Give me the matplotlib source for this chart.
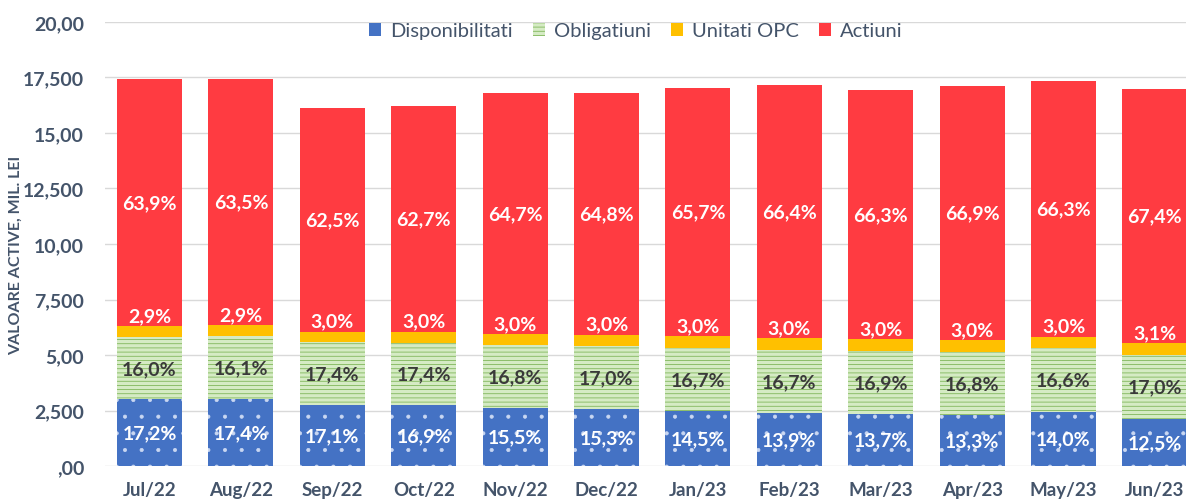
import numpy as np
import matplotlib
matplotlib.use("Agg")
import matplotlib.pyplot as plt

# ====== DATA ======
months = ["Jul/22", "Aug/22", "Sep/22", "Oct/22", "Nov/22", "Dec/22",
          "Jan/23", "Feb/23", "Mar/23", "Apr/23", "May/23", "Jun/23"]
totals = [17.44, 17.44, 16.13, 16.21, 16.82, 16.77,
          17.06, 17.14, 16.97, 17.13, 17.35, 16.97]   # valoare active, mil. lei
pct_disp  = [17.2, 17.4, 17.1, 16.9, 15.5, 15.3, 14.5, 13.9, 13.7, 13.3, 14.0, 12.5]
pct_oblig = [16.0, 16.1, 17.4, 17.4, 16.8, 17.0, 16.7, 16.7, 16.9, 16.8, 16.6, 17.0]
pct_opc   = [2.9, 2.9, 3.0, 3.0, 3.0, 3.0, 3.0, 3.0, 3.0, 3.0, 3.0, 3.1]
pct_act   = [63.9, 63.5, 62.5, 62.7, 64.7, 64.8, 65.7, 66.4, 66.3, 66.9, 66.3, 67.4]
series_names = ["Disponibilitati", "Obligatiuni", "Unitati OPC", "Actiuni"]
ytick_vals   = [0, 2.5, 5, 7.5, 10, 12.5, 15, 17.5, 20]
ytick_labels = [",00", "2,500", "5,00", "7,500", "10,00", "12,500", "15,00", "17,500", "20,00"]
# ==================

plt.rcParams["font.family"] = ["Lato", "DejaVu Sans"]
plt.rcParams["hatch.linewidth"] = 0.5

TXT = "#44546A"
BLUE, GREEN_BG, GREEN_LN, YELLOW, RED = "#4472C4", "#D5EBC4", "#70AD47", "#FFC000", "#FF3B41"

tot = np.array(totals)
pcts = [np.array(p) for p in (pct_disp, pct_oblig, pct_opc, pct_act)]
vals = [tot * p / 100 for p in pcts]
x = np.arange(len(months))
w = 0.71

fig = plt.figure(figsize=(11.86, 5.02), dpi=100)
ax = fig.add_axes([0.0885, 0.0697, 0.9115, 0.8845])

bottom = np.zeros(len(months))
styles = [
    dict(color=BLUE, edgecolor="#C9D7F2", hatch="."),
    dict(color=GREEN_BG, edgecolor=GREEN_LN, hatch="----"),
    dict(color=YELLOW, edgecolor=YELLOW),
    dict(color=RED, edgecolor=RED),
]
containers = []
bottoms = []
for v, st, name in zip(vals, styles, series_names):
    c = ax.bar(x, v, w, bottom=bottom, label=name, linewidth=0, zorder=2, **st)
    containers.append(c)
    bottoms.append(bottom.copy())
    bottom = bottom + v

# labels
fs = 14
for i in range(len(months)):
    b0, b1, b2, b3 = (bb[i] for bb in bottoms)
    v0, v1, v2, v3 = (vv[i] for vv in vals)
    ax.text(x[i], b0 + v0 / 2, f"{pct_disp[i]:.1f}%".replace(".", ","),
            ha="center", va="center", color="white", fontsize=fs, fontweight="bold", zorder=3)
    ax.text(x[i], b1 + v1 / 2, f"{pct_oblig[i]:.1f}%".replace(".", ","),
            ha="center", va="center", color="#3A3A3A", fontsize=fs, fontweight="bold", zorder=3)
    ax.annotate(f"{pct_opc[i]:.1f}%".replace(".", ","), (x[i], b2 + v2),
                xytext=(0, 1.5), textcoords="offset points",
                ha="center", va="bottom", color="white", fontsize=fs, fontweight="bold", zorder=3)
    ax.text(x[i], b3 + v3 / 2, f"{pct_act[i]:.1f}%".replace(".", ","),
            ha="center", va="center", color="white", fontsize=fs, fontweight="bold", zorder=3)

ax.set_xlim(-0.487, 11.34)
ax.set_ylim(0, 20)
ax.set_yticks(ytick_vals)
ax.set_yticklabels(ytick_labels)
ax.set_xticks(x)
ax.set_xticklabels(months)
ax.tick_params(axis="y", length=0, pad=15, labelsize=14, labelcolor=TXT)
ax.tick_params(axis="x", length=0, pad=11, labelsize=13.5, labelcolor=TXT)
for lab in ax.get_xticklabels() + ax.get_yticklabels():
    lab.set_fontweight("bold")
ax.yaxis.grid(True, color="#D9D9D9", linewidth=1, zorder=0)
ax.set_axisbelow(True)
for s in ax.spines.values():
    s.set_visible(False)

fig.text(16 / 1186, 1 - 255 / 502, "VALOARE ACTIVE, MIL. LEI", rotation=90,
         ha="center", va="center", fontsize=11.5, fontweight="bold", color=TXT)

ax.legend(handles=containers, loc="center", bbox_to_anchor=(0.491, 0.98), ncol=4,
          frameon=False, fontsize=14.5, labelcolor=TXT, handlelength=0.6, handleheight=0.6,
          handletextpad=0.45, columnspacing=1.0)

fig.savefig("out.png", dpi=100)
